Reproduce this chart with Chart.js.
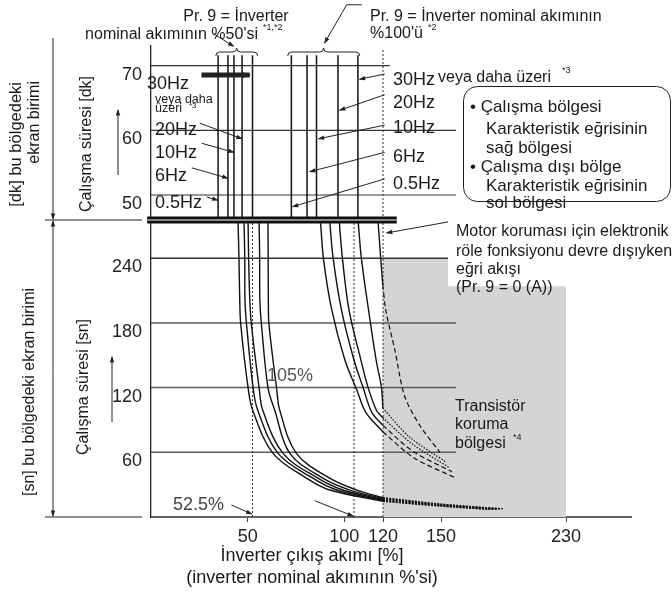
<!DOCTYPE html>
<html>
<head>
<meta charset="utf-8">
<script src="https://cdn.jsdelivr.net/npm/chart.js@4.4.1/dist/chart.umd.min.js"></script>
<style>
  html, body { margin: 0; padding: 0; background: #fff; }
</style>
</head>
<body>
<canvas id="chart" width="672" height="594"></canvas>
<script>
const F = "'Liberation Sans', Arial, Helvetica, sans-serif";

// axis ticks
const xTicks = [50, 100, 120, 150, 230];
const minTicks = [50, 60, 70];
const secTicks = [60, 120, 180, 240];

// upper part [dk]: vertical characteristic lines, 0.5 / 6 / 10 / 20 / 30Hz
const minLines50 = [34.7, 39.8, 42.9, 47.1, 52.5];
const minLines100 = [72.6, 80.7, 85.6, 96.7, 107];

// lower part [sn]: curves as [current %, seconds], 0.5Hz .. 30Hz
const secCurves50 = [
  [[45, 275], [45.5, 240], [45.9, 201], [46.4, 179], [50.2, 120], [52.6, 99], [63.1, 59], [80.4, 36], [92.4, 25], [120, 14.5]],
  [[48.1, 275], [48.5, 240], [48.6, 201], [49.4, 179], [52.8, 120], [55.2, 99], [65.7, 59], [83.7, 36], [96.1, 25], [120, 15.3]],
  [[50.2, 275], [50.5, 240], [51.1, 201], [51.9, 179], [55.9, 120], [57.8, 99], [68.3, 59], [86.3, 36], [99.2, 25], [120, 16.2]],
  [[55.9, 275], [56.2, 240], [56.3, 201], [57.1, 179], [60.5, 120], [64, 99], [71.8, 59], [88.9, 36], [102.8, 25], [120, 17.1]],
  [[60.5, 275], [60.6, 240], [60.7, 201], [61, 179], [64.9, 120], [66.6, 99], [75.2, 59], [92.4, 36], [106.4, 25], [120, 18]]
];
const tails50 = [
  [[120, 14.5], [150, 10], [181, 7]],
  [[120, 15.3], [150, 10.5], [184, 7]],
  [[120, 16.2], [150, 11], [186, 7]],
  [[120, 17.1], [150, 11.5], [188, 7.5]],
  [[120, 18], [150, 12], [190, 7.5]]
];
const secCurves100 = [
  [[87.6, 275], [89.3, 238], [93.5, 192], [100.2, 146], [106.4, 118], [111.1, 97], [119.9, 79]],
  [[92.4, 275], [94.2, 240], [98.5, 192], [104.9, 146], [109.7, 120], [114.2, 97], [119.9, 85]],
  [[97.3, 275], [99, 240], [102.4, 192], [108.5, 146], [112.3, 120], [116.6, 99], [119.9, 92]],
  [[107.1, 275], [108.8, 240], [112.5, 192], [116.4, 146], [119.2, 120], [119.9, 101]],
  [[117.4, 275], [118.8, 240], [119.9, 215]]
];
const tails100 = [
  [[119.9, 79], [135.9, 55], [159.6, 36]],
  [[119.9, 85], [135.4, 61], [157, 42]],
  [[119.9, 92], [134.9, 68], [155.1, 46]],
  [[119.9, 101], [133.8, 74], [153.2, 51]],
  [[119.9, 215], [121.4, 192], [126.1, 155], [131.2, 112], [139, 85], [149.4, 60]]
];
const tailStyle = [[5, 3], [5, 3], [1.5, 1.5], [1.5, 1.5], [5, 3]];

// reference lines
const refPct = [52.5, 105, 120];
const minGuide = [70, 60, 50];
const minGuideEnd = [123.5, 159.6, 159.6];
const secGuide = [240, 180, 120, 60];
const secGuideEnd = [154.5, 159.6, 159.6, 159.6];
const transRegion = [[120, 240], [154.5, 240], [154.5, 214], [230, 214]];

const MIN_LO = 46.14, MIN_HI = 73.03, SEC_HI = 275.4, PCT_HI = 271.6;

// x axis: linear up to 150 %, squeezed above
class BrokenScale extends Chart.LinearScale {
  squeeze(v) {
    const b = this.options.breakAt, k = this.options.ratio;
    return v <= b ? v : b + (v - b) * k;
  }
  getPixelForValue(v) {
    const lo = this.squeeze(this.min), hi = this.squeeze(this.max);
    return this.getPixelForDecimal((this.squeeze(v) - lo) / (hi - lo));
  }
}
BrokenScale.id = 'broken';
BrokenScale.defaults = Chart.LinearScale.defaults;
Chart.register(BrokenScale);

const datasets = [];
const add = (pts, ax, o) => datasets.push(Object.assign({
  data: pts.map(([x, y]) => ({ x, y })),
  xAxisID: 'x', yAxisID: ax,
  borderColor: '#111', borderWidth: 1.4, pointRadius: 0,
  fill: false, tension: 0, order: 10
}, o));

add(transRegion, 'ys', { fill: 'origin', backgroundColor: '#d3d4d6', borderColor: 'rgba(0,0,0,0)', borderWidth: 0, order: 100 });
minGuide.forEach((v, i) => add([[0, v], [minGuideEnd[i], v]], 'ym', { borderColor: '#333', borderWidth: 1.2, order: 50 }));
secGuide.forEach((v, i) => add([[0, v], [secGuideEnd[i], v]], 'ys', { borderColor: i ? '#5a5a5a' : '#333', borderWidth: 1.5, order: 50 }));
add([[120, MIN_LO], [120, 72.4]], 'ym', { borderColor: '#333', borderWidth: 1, borderDash: [2, 2], order: 40 });
refPct.forEach(p => add([[p, 0], [p, SEC_HI]], 'ys', { borderColor: '#333', borderWidth: 1, borderDash: [2, 2], order: 40 }));
minLines50.concat(minLines100).forEach(x => add([[x, MIN_LO], [x, 71.6]], 'ym', { borderWidth: 1.5 }));
secCurves50.forEach(c => add(c, 'ys', { tension: 0.35 }));
tails50.forEach(c => add(c, 'ys', { tension: 0.3, borderDash: [2, 1.2], borderWidth: 1.3 }));
secCurves100.forEach(c => add(c, 'ys', { tension: 0.35 }));
tails100.forEach((c, i) => add(c, 'ys', { tension: 0.3, borderDash: tailStyle[i], borderWidth: 1.2 }));
add([[-2, SEC_HI], [127.1, SEC_HI]], 'ys', { borderWidth: 7, clip: false, order: 2 });
add([[-2, SEC_HI], [127.1, SEC_HI]], 'ys', { borderWidth: 2, borderColor: '#8a8a8a', clip: false, order: 1 });

// leader arrows in data units
const pointers = [
  { ax: 'ym', pts: [[25.2, 61.1], [47.0, 58.7]] },
  { ax: 'ym', pts: [[26.2, 58.0], [42.8, 56.6]] },
  { ax: 'ym', pts: [[21.1, 54.2], [39.7, 52.6]] },
  { ax: 'ym', pts: [[28.8, 49.7], [34.5, 49.2]] },
  { ax: 'ym', pts: [[120.9, 68.7], [107.9, 67.9]] },
  { ax: 'ym', pts: [[120.9, 65.5], [97.6, 63.1]] },
  { ax: 'ym', pts: [[120.9, 60.8], [86.7, 58.7]] },
  { ax: 'ym', pts: [[120.9, 56.6], [82.1, 53.6]] },
  { ax: 'ym', pts: [[120.9, 52.5], [73.3, 48.2]] },
  { ax: 'ym', pts: [[26.1, 68.55], [51.1, 68.55]], w: 5, head: 8 },
  { ax: 'ym', pts: [[32.5, 74.9], [42.7, 73.0]] },
  { ax: 'ym', pts: [[109, 79.4], [101.2, 79.4], [89.8, 73.5]] },
  { ax: 'ys', pts: [[154.5, 273.6], [121.9, 263.4]] },
  { ax: 'ys', pts: [[41.6, 11.1], [52.1, 2.8]] },
  { ax: 'ys', pts: [[84.7, 15.1], [104.5, 0.9]] }
];
const braces = [[33.5, 44.3, 55.2], [70.7, 89.3, 108]];

// text: [text, x, y, size, align, color]
const labels = [
  ['Pr. 9 = İnverter', 236, 17, 16, 'center'],
  ["nominal akımının %50'si", 258, 35, 16, 'right'],
  ['*1,*2', 263, 28, 9],
  ['Pr. 9 = İnverter nominal akımının', 370, 17, 16],
  ["%100'ü", 370, 34, 16],
  ['*2', 428, 28, 9],
  ['30Hz', 147, 84, 18],
  ['veya daha', 155, 100, 12.5],
  ['üzeri', 155, 109, 12.5],
  ['*3', 189, 106, 8],
  ['20Hz', 155, 130, 18],
  ['10Hz', 155, 153, 18],
  ['6Hz', 155, 176, 18],
  ['0.5Hz', 155, 203, 18],
  ['30Hz', 393, 80, 18],
  ['veya daha üzeri', 438, 78, 16],
  ['*3', 562, 71, 9],
  ['20Hz', 393, 103, 18],
  ['10Hz', 393, 128, 18],
  ['6Hz', 393, 157, 18],
  ['0.5Hz', 393, 184, 18],
  ['• Çalışma bölgesi', 470, 107, 17],
  ['Karakteristik eğrisinin', 486, 129, 17],
  ['sağ bölgesi', 486, 148, 17],
  ['• Çalışma dışı bölge', 470, 167, 17],
  ['Karakteristik eğrisinin', 486, 186, 17],
  ['sol bölgesi', 486, 203, 17],
  ['Motor koruması için elektronik', 456, 232, 16],
  ['röle fonksiyonu devre dışıyken', 456, 252, 16],
  ['eğri akışı', 456, 270, 16],
  ['(Pr. 9 = 0 (A))', 456, 288, 16],
  ['105%', 267, 376, 18, 'left', '#555'],
  ['Transistör', 455, 407, 16],
  ['koruma', 455, 425, 16],
  ['bölgesi', 455, 444, 16],
  ['*4', 513, 438, 9],
  ['52.5%', 173, 505, 18, 'left', '#444'],
  ['İnverter çıkış akımı [%]', 312, 556, 18, 'center'],
  ["(inverter nominal akımının %'si)", 312, 578, 18, 'center']
];
const sideLabels = [
  ['Çalışma süresi [dk]', 87, 144, 16, 'center'],
  ['Çalışma süresi [sn]', 84, 387, 16, 'center'],
  ['[dk] bu bölgedeki', 16, 82, 16.5, 'right'],
  ['ekran birimi', 35, 81, 16, 'right'],
  ['[sn] bu bölgedeki ekran birimi', 30, 392, 16, 'center']
];

function arrowPath(ctx, pts, w, head) {
  ctx.lineWidth = w;
  ctx.beginPath();
  ctx.moveTo(pts[0][0], pts[0][1]);
  pts.slice(1).forEach(p => ctx.lineTo(p[0], p[1]));
  ctx.stroke();
  const [x1, y1] = pts[pts.length - 2], [x2, y2] = pts[pts.length - 1];
  const a = Math.atan2(y2 - y1, x2 - x1), s = Math.max(head, w * 1.6);
  ctx.beginPath();
  ctx.moveTo(x2 + Math.cos(a) * 1, y2 + Math.sin(a) * 1);
  ctx.lineTo(x2 - s * Math.cos(a - 0.38), y2 - s * Math.sin(a - 0.38));
  ctx.lineTo(x2 - s * Math.cos(a + 0.38), y2 - s * Math.sin(a + 0.38));
  ctx.closePath();
  ctx.fill();
}

const notes = {
  id: 'notes',
  afterDraw(chart) {
    const ctx = chart.ctx, sx = chart.scales.x, ym = chart.scales.ym, ys = chart.scales.ys;
    ctx.save();
    ctx.strokeStyle = '#222';
    ctx.fillStyle = '#222';

    pointers.forEach(p => {
      const sc = chart.scales[p.ax];
      arrowPath(ctx, p.pts.map(([x, y]) => [sx.getPixelForValue(x), sc.getPixelForValue(y)]), p.w || 1, p.head || 6);
    });

    // braces above the two line groups
    ctx.lineWidth = 1;
    const by = ym.getPixelForValue(72.1);
    braces.forEach(([a, m, b]) => {
      const x1 = sx.getPixelForValue(a), xm = sx.getPixelForValue(m), x2 = sx.getPixelForValue(b);
      ctx.beginPath();
      ctx.moveTo(x1, by + 4);
      ctx.quadraticCurveTo(x1, by, x1 + 4, by);
      ctx.lineTo(xm - 4, by);
      ctx.quadraticCurveTo(xm, by, xm, by - 4);
      ctx.quadraticCurveTo(xm, by, xm + 4, by);
      ctx.lineTo(x2 - 4, by);
      ctx.quadraticCurveTo(x2, by, x2, by + 4);
      ctx.stroke();
    });

    // dimension lines on the left
    const yb = ys.top, y0 = ys.bottom;
    ctx.beginPath();
    ctx.moveTo(45, yb); ctx.lineTo(142, yb);
    ctx.moveTo(45, y0); ctx.lineTo(142, y0);
    ctx.stroke();
    arrowPath(ctx, [[53, 38], [53, yb - 1]], 1, 6);
    arrowPath(ctx, [[53, (yb + y0) / 2], [53, yb + 1]], 1, 6);
    arrowPath(ctx, [[53, (yb + y0) / 2], [53, y0 - 1]], 1, 6);
    arrowPath(ctx, [[118, 175], [118, 110]], 1, 6);
    arrowPath(ctx, [[112, 422], [112, 357]], 1, 6);

    // rounded note box
    ctx.lineWidth = 1;
    ctx.beginPath();
    ctx.roundRect(463.5, 86.5, 207, 115, 14);
    ctx.stroke();

    ctx.textBaseline = 'middle';
    labels.forEach(([t, x, y, size, align, color]) => {
      ctx.font = size + 'px ' + F;
      ctx.textAlign = align || 'left';
      ctx.fillStyle = color || '#1a1a1a';
      ctx.fillText(t, x, y);
    });
    sideLabels.forEach(([t, x, y, size, align]) => {
      ctx.save();
      ctx.translate(x, y);
      ctx.rotate(-Math.PI / 2);
      ctx.font = size + 'px ' + F;
      ctx.textAlign = align;
      ctx.fillStyle = '#1a1a1a';
      ctx.fillText(t, 0, 0);
      ctx.restore();
    });
    ctx.restore();
  }
};

const tickFont = { family: F, size: 18 };

new Chart(document.getElementById('chart'), {
  type: 'line',
  data: { datasets },
  options: {
    responsive: false,
    animation: false,
    events: [],
    layout: { padding: { top: 46, right: 41, left: 0, bottom: 0 } },
    plugins: { legend: { display: false }, tooltip: { enabled: false } },
    scales: {
      x: {
        type: 'broken', position: 'bottom', min: 0, max: PCT_HI, breakAt: 150, ratio: 0.808,
        afterBuildTicks: s => { s.ticks = xTicks.map(v => ({ value: v })); },
        afterFit: s => { s.height = 77; },
        grid: { drawOnChartArea: false, drawTicks: true, tickLength: 5, color: '#444' },
        border: { color: '#666', width: 2 },
        ticks: { autoSkip: false, maxRotation: 0, minRotation: 0, padding: 4, color: '#222', font: tickFont }
      },
      ys: {
        type: 'linear', position: 'left', stack: 'time', stackWeight: 297, min: 0, max: SEC_HI,
        afterBuildTicks: s => { s.ticks = secTicks.map(v => ({ value: v })); },
        afterFit: s => { s.width = 151; },
        grid: { display: false, drawTicks: false },
        border: { color: '#222', width: 1.3 },
        ticks: { autoSkip: false, padding: 9, labelOffset: 9, color: '#222', font: tickFont }
      },
      ym: {
        type: 'linear', position: 'left', stack: 'time', stackWeight: 174, min: MIN_LO, max: MIN_HI,
        afterBuildTicks: s => { s.ticks = minTicks.map(v => ({ value: v })); },
        afterFit: s => { s.width = 151; },
        grid: { display: false, drawTicks: false },
        border: { color: '#222', width: 1.3 },
        ticks: { autoSkip: false, padding: 9, labelOffset: 9, color: '#222', font: tickFont }
      }
    }
  },
  plugins: [notes]
});
</script>
</body>
</html>
